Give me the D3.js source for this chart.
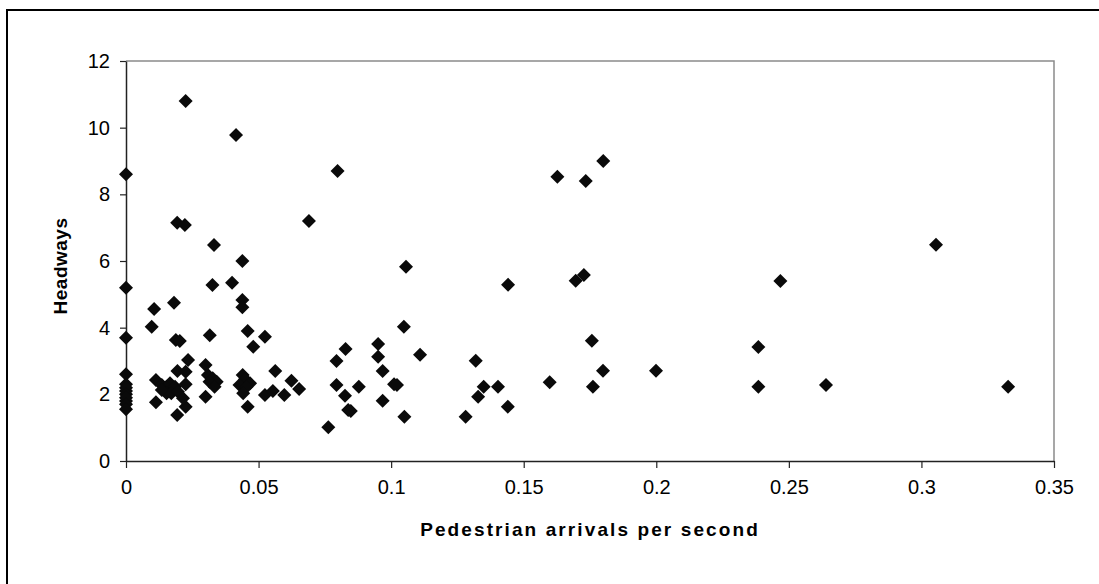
<!DOCTYPE html>
<html>
<head>
<meta charset="utf-8">
<script src="https://cdn.jsdelivr.net/npm/d3@7.9.0/dist/d3.min.js"></script>
<style>
  html, body { margin: 0; padding: 0; background: #fff; }
  svg { display: block; font-family: "Liberation Sans", Arial, sans-serif; }
</style>
</head>
<body>
<svg id="chart" width="1099" height="584"></svg>
<script>
// Pedestrian arrivals per second (x)
let arrivals = [
  0, 0, 0, 0, 0, 0, 0, 0, 0, 0, 0, 0,
  0.0225, 0.0415, 0.0798, 0.0193, 0.0222, 0.069, 0.0332, 0.0439, 0.0326, 0.040,
  0.0439, 0.0439, 0.0106, 0.0181, 0.0097, 0.0459, 0.0188, 0.0203, 0.0316, 0.048,
  0.0524, 0.0234, 0.0194, 0.030, 0.0563, 0.0794, 0.0828, 0.0624, 0.0653, 0.0524,
  0.0554, 0.0597, 0.0113, 0.0193, 0.0225, 0.030, 0.0459, 0.0763, 0.0794, 0.0826,
  0.0838,
  0.0113, 0.0135, 0.0153, 0.0166, 0.0185, 0.0153, 0.0171, 0.0135, 0.0196, 0.0225,
  0.0225, 0.0215,
  0.0309, 0.0327, 0.0342, 0.0315, 0.0334,
  0.044, 0.0449, 0.0428, 0.0468, 0.0455, 0.0442,
  0.1627, 0.1734, 0.180, 0.1056, 0.1441, 0.1696, 0.1727, 0.1048, 0.1757, 0.0951,
  0.0951, 0.1109, 0.1319, 0.0968, 0.1799, 0.0878, 0.1011, 0.1022, 0.0848, 0.0968,
  0.105, 0.1281, 0.1349, 0.1328, 0.1403, 0.144, 0.1598, 0.1761,
  0.3055, 0.2468, 0.2385, 0.1999, 0.2385, 0.264, 0.3327
];

// Headways (y), same order as arrivals
let headways = [
  8.6, 5.2, 3.7, 2.6, 2.3, 2.2, 2.1, 2.0, 1.9, 1.8, 1.7, 1.55,
  10.8, 9.78, 8.7, 7.15, 7.08, 7.2, 6.48, 6.0, 5.28, 5.35,
  4.83, 4.61, 4.56, 4.75, 4.03, 3.9, 3.63, 3.6, 3.77, 3.43,
  3.73, 3.03, 2.7, 2.88, 2.7, 3.0, 3.36, 2.41, 2.16, 1.98,
  2.1, 1.98, 1.76, 1.38, 1.63, 1.93, 1.63, 1.01, 2.28, 1.96,
  1.53,
  2.43, 2.28, 2.23, 2.33, 2.23, 2.03, 2.03, 2.13, 2.08, 2.3,
  2.68, 1.88,
  2.58, 2.48, 2.38, 2.38, 2.23,
  2.58, 2.45, 2.28, 2.33, 2.23, 2.03,
  8.53, 8.4, 9.0, 5.83, 5.29, 5.41, 5.58, 4.03, 3.61, 3.51,
  3.13, 3.19, 3.01, 2.7, 2.71, 2.23, 2.3, 2.28, 1.5, 1.81,
  1.33, 1.33, 2.23, 1.93, 2.23, 1.63, 2.36, 2.23,
  6.49, 5.4, 3.42, 2.71, 2.23, 2.28, 2.23
];

// Tick values
let xTicks = [0, 0.05, 0.1, 0.15, 0.2, 0.25, 0.3, 0.35];
let yTicks = [0, 2, 4, 6, 8, 10, 12];

let xTitle = 'Pedestrian arrivals per second';
let yTitle = 'Headways';

let points = arrivals.map((a, i) => ({ x: a, y: headways[i] }));

let svg = d3.select('#chart');

// Outer chart frame (runs off the right / bottom of the window)
svg.append('rect')
  .attr('x', 7)
  .attr('y', 10)
  .attr('width', 1200)
  .attr('height', 700)
  .attr('fill', 'none')
  .attr('stroke', '#000')
  .attr('stroke-width', 2);

// Plot area
let plot = { left: 126, right: 1054, top: 61, bottom: 461 };

let x = d3.scaleLinear().domain([0, 0.35]).range([plot.left, plot.right]);
let y = d3.scaleLinear().domain([0, 12]).range([plot.bottom, plot.top]);

// Gray top / right border of the plot area
svg.append('path')
  .attr('d', `M${plot.left},${plot.top}H${plot.right}V${plot.bottom}`)
  .attr('fill', 'none')
  .attr('stroke', '#8a8a8a')
  .attr('stroke-width', 1.5);

// Axes
let xAxis = svg.append('g')
  .attr('transform', `translate(0,${plot.bottom})`)
  .call(d3.axisBottom(x).tickValues(xTicks).tickSize(7).tickPadding(12).tickSizeOuter(0)
    .tickFormat(d3.format('')));

let yAxis = svg.append('g')
  .attr('transform', `translate(${plot.left},0)`)
  .call(d3.axisLeft(y).tickValues(yTicks).tickSize(6).tickPadding(10).tickSizeOuter(0));

[xAxis, yAxis].forEach((g) => {
  g.select('.domain').attr('stroke', '#222').attr('stroke-width', 1.5);
  g.selectAll('.tick line').attr('stroke', '#222').attr('stroke-width', 1.2);
  g.selectAll('.tick text')
    .attr('fill', '#000')
    .style('font-size', '20px')
    .style('font-family', '"Liberation Sans", Arial, sans-serif');
});

// Axis titles
svg.append('text')
  .attr('x', (plot.left + plot.right) / 2)
  .attr('y', 536)
  .attr('text-anchor', 'middle')
  .style('font-size', '19px')
  .style('font-weight', 'bold')
  .style('letter-spacing', '2.1px')
  .text(xTitle);

svg.append('text')
  .attr('transform', `translate(67,266) rotate(-90)`)
  .attr('text-anchor', 'middle')
  .style('font-size', '19px')
  .style('font-weight', 'bold')
  .style('letter-spacing', '0.5px')
  .text(yTitle);

// Diamond markers
let diamond = d3.symbol().type(d3.symbolDiamond2).size(125);

svg.append('g')
  .selectAll('path')
  .data(points)
  .enter()
  .append('path')
  .attr('transform', (d) => `translate(${x(d.x)},${y(d.y)})`)
  .attr('d', diamond)
  .attr('fill', '#0a0a0a');
</script>
</body>
</html>
